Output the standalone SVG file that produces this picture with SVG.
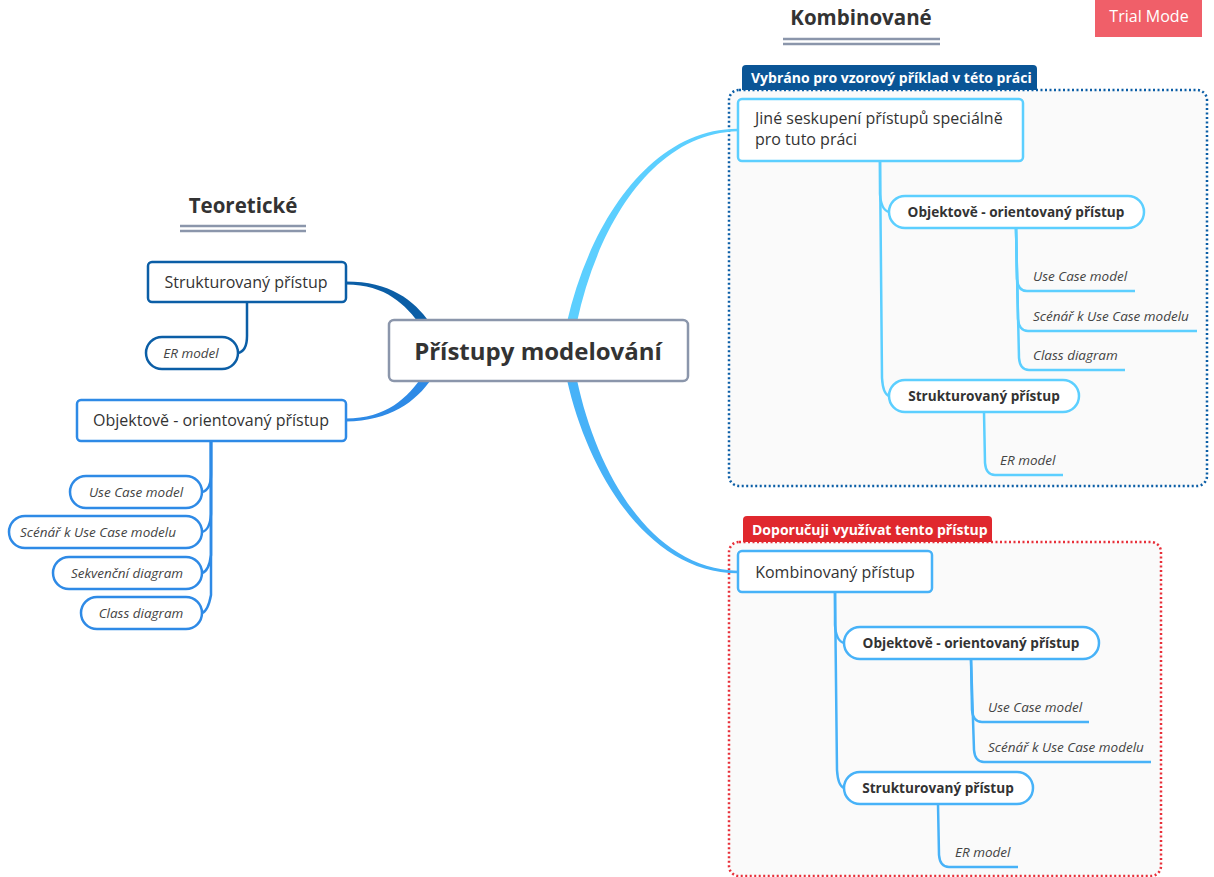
<svg xmlns="http://www.w3.org/2000/svg" width="1214" height="877" viewBox="0 0 1214 877">
  <style>
    text { font-family: "Open Sans", "Noto Sans", "DejaVu Sans", sans-serif; fill: #333; }
    .title { font-size: 20.5px; font-weight: bold; text-anchor: middle; }
    .rule { stroke: #8b96ab; stroke-width: 2.5; }
    .topic { font-size: 16px; }
    .sub { font-size: 13.6px; font-weight: bold; }
    .leaf { font-size: 13.5px; font-style: italic; fill: #444; }
    .mid { text-anchor: middle; }
    .tab { font-size: 14px; font-weight: bold; fill: #fff; }
    .dark { stroke: #0b5ea6; }
    .blue { stroke: #2e8ae6; }
    .cyan { stroke: #5ccfff; }
    .sky { stroke: #47b2f8; }
    .box { fill: #fff; stroke-width: 2.5; }
    .line { fill: none; stroke-width: 2.5; }
  </style>

  <rect width="1214" height="877" fill="#fff"/>

  <!-- section headings -->
  <g id="heading-teoreticke">
    <text class="title" x="243" y="213">Teoretické</text>
    <line class="rule" x1="180" y1="226" x2="306" y2="226"/>
    <line class="rule" x1="180" y1="231" x2="306" y2="231"/>
  </g>
  <g id="heading-kombinovane">
    <text class="title" x="861" y="25">Kombinované</text>
    <line class="rule" x1="783" y1="39" x2="940" y2="39"/>
    <line class="rule" x1="783" y1="44" x2="940" y2="44"/>
  </g>

  <!-- trial badge -->
  <g id="trial-badge">
    <rect x="1095" y="0" width="107" height="37" fill="#f05f69"/>
    <text x="1149" y="22" font-size="16" class="mid" style="fill:#fff">Trial Mode</text>
  </g>

  <!-- group frames -->
  <g id="frame-vybrano">
    <rect x="729" y="90" width="478" height="396" rx="10" fill="#fafafa" stroke="#0b5ea6" stroke-width="2.5" stroke-dasharray="2 2.5"/>
    <path d="M742,90 V69 Q742,65 746,65 H1033 Q1037,65 1037,69 V90 Z" fill="#0a5596"/>
    <text class="tab" x="751" y="83">Vybráno pro vzorový příklad v této práci</text>
  </g>
  <g id="frame-doporucuji">
    <rect x="729" y="542" width="432" height="334" rx="10" fill="#fafafa" stroke="#e8303a" stroke-width="2.5" stroke-dasharray="2 2.5"/>
    <path d="M743,542 V520 Q743,516 747,516 H988 Q992,516 992,520 V542 Z" fill="#e0282e"/>
    <text class="tab" x="752" y="535">Doporučuji využívat tento přístup</text>
  </g>

  <!-- connectors -->
  <g id="connectors">
    <!-- main tapered branches -->
    <path d="M346,281.5 C390,281.5 414,300 430,323 L421,326 C406,305 386,284.5 346,284.5 Z" fill="#0b5ea6"/>
    <path d="M346,421.5 C390,421 416,402 432,378 L423,375 C408,398 386,418.5 346,418.5 Z" fill="#2e8ae6"/>
    <path d="M567,322 C589,225 650,128.5 738,128.8 L738,131.2 C652,133 597,228 577,322 Z" fill="#5ccfff"/>
    <path d="M567,380 C589,477 650,573.5 738,573.2 L738,570.8 C652,569 597,474 577,380 Z" fill="#47b2f8"/>

    <!-- left: Strukturovaný -> ER model -->
    <path class="line dark" d="M247,302 V336 Q247,351 238,353"/>
    <!-- left: Objektově -> leaves -->
    <path class="line blue" d="M211,441 V474 Q211,490 202,492"/>
    <path class="line blue" d="M211,441 V514 Q210,530 202,532"/>
    <path class="line blue" d="M211,441 V555 Q209,571 202,573"/>
    <path class="line blue" d="M211,441 V595 Q208,611 202,613"/>

    <!-- top group -->
    <path class="line cyan" d="M880,161 V194 Q881,210 889,212"/>
    <path class="line cyan" d="M880,161 L882,378 Q883,394 889,396"/>
    <path class="line cyan" d="M1016,228 L1017,279 Q1018,291 1027,291 H1135"/>
    <path class="line cyan" d="M1016,228 L1018,319 Q1019,331 1028,331 H1197"/>
    <path class="line cyan" d="M1016,228 L1019,358 Q1020,370 1029,370 H1125"/>
    <path class="line cyan" d="M984,412 L985,463 Q986,475 995,475 H1063"/>

    <!-- bottom group -->
    <path class="line sky" d="M835,592 V625 Q836,641 844,643"/>
    <path class="line sky" d="M835,592 L837,770 Q838,786 844,788"/>
    <path class="line sky" d="M971,659 L972,710 Q973,722 982,722 H1089"/>
    <path class="line sky" d="M971,659 L974,750 Q975,762 984,762 H1151"/>
    <path class="line sky" d="M938,804 L939,855 Q940,867 949,867 H1018"/>
  </g>

  <!-- central topic -->
  <g id="node-pristupy">
    <rect x="389" y="320" width="299" height="61" rx="5" fill="#fff" stroke="#8b96ab" stroke-width="2.5"/>
    <text x="538" y="360" font-size="24" font-weight="bold" class="mid">Přístupy modelování</text>
  </g>

  <!-- left: theoretical -->
  <g id="node-l-strukturovany">
    <rect class="box dark" x="148" y="262" width="198" height="40" rx="4"/>
    <text class="topic mid" x="246" y="287.5">Strukturovaný přístup</text>
  </g>
  <g id="node-l-ermodel">
    <rect class="box dark" x="146" y="337" width="92" height="32" rx="16"/>
    <text class="leaf mid" x="191" y="358">ER model</text>
  </g>
  <g id="node-l-objektove">
    <rect class="box blue" x="77" y="400" width="269" height="41" rx="4"/>
    <text class="topic mid" x="211" y="425.5">Objektově - orientovaný přístup</text>
  </g>
  <g id="node-l-usecase">
    <rect class="box blue" x="70" y="476" width="132" height="32" rx="16"/>
    <text class="leaf mid" x="136" y="497">Use Case model</text>
  </g>
  <g id="node-l-scenar">
    <rect class="box blue" x="9" y="516" width="193" height="32" rx="16"/>
    <text class="leaf mid" x="98" y="537">Scénář k Use Case modelu</text>
  </g>
  <g id="node-l-sekvencni">
    <rect class="box blue" x="53" y="557" width="149" height="32" rx="16"/>
    <text class="leaf mid" x="127" y="578">Sekvenční diagram</text>
  </g>
  <g id="node-l-class">
    <rect class="box blue" x="81" y="597" width="121" height="32" rx="16"/>
    <text class="leaf mid" x="141" y="618">Class diagram</text>
  </g>

  <!-- right: group chosen for the example -->
  <g id="node-jine">
    <rect class="box cyan" x="738" y="99" width="285" height="62" rx="4"/>
    <text class="topic" x="755" y="124">Jiné seskupení přístupů speciálně</text>
    <text class="topic" x="755" y="145">pro tuto práci</text>
  </g>
  <g id="node-t-objektove">
    <rect class="box cyan" x="889" y="196" width="255" height="32" rx="16"/>
    <text class="sub mid" x="1016" y="217">Objektově - orientovaný přístup</text>
  </g>
  <g id="node-t-usecase"><text class="leaf" x="1033" y="281">Use Case model</text></g>
  <g id="node-t-scenar"><text class="leaf" x="1033" y="321">Scénář k Use Case modelu</text></g>
  <g id="node-t-class"><text class="leaf" x="1033" y="360">Class diagram</text></g>
  <g id="node-t-strukturovany">
    <rect class="box cyan" x="889" y="380" width="190" height="32" rx="16"/>
    <text class="sub mid" x="984" y="401">Strukturovaný přístup</text>
  </g>
  <g id="node-t-ermodel"><text class="leaf" x="1000" y="465">ER model</text></g>

  <!-- right: recommended group -->
  <g id="node-kombinovany">
    <rect class="box sky" x="738" y="551" width="194" height="41" rx="4"/>
    <text class="topic mid" x="835" y="577.5">Kombinovaný přístup</text>
  </g>
  <g id="node-b-objektove">
    <rect class="box sky" x="844" y="627" width="255" height="32" rx="16"/>
    <text class="sub mid" x="971" y="648">Objektově - orientovaný přístup</text>
  </g>
  <g id="node-b-usecase"><text class="leaf" x="988" y="712">Use Case model</text></g>
  <g id="node-b-scenar"><text class="leaf" x="988" y="752">Scénář k Use Case modelu</text></g>
  <g id="node-b-strukturovany">
    <rect class="box sky" x="844" y="772" width="189" height="32" rx="16"/>
    <text class="sub mid" x="938" y="793">Strukturovaný přístup</text>
  </g>
  <g id="node-b-ermodel"><text class="leaf" x="955" y="857">ER model</text></g>
</svg>
